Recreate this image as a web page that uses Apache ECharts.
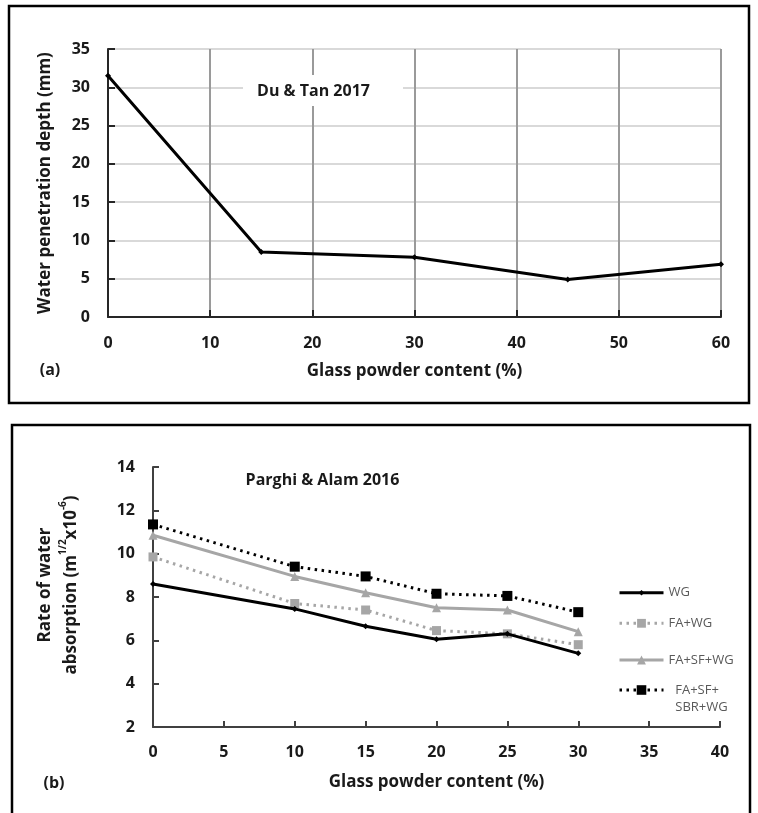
<!DOCTYPE html>
<html>
<head>
<meta charset="utf-8">
<script src="https://cdn.jsdelivr.net/npm/echarts@6/dist/echarts.min.js"></script>
<style>
  html, body { margin: 0; padding: 0; background: #fff; }
  #chart { width: 758px; height: 813px; }
</style>
</head>
<body>
<div id="chart"></div>
<script>
// (a) Du & Tan 2017 - water penetration depth
const depthGlass = [0, 15, 30, 45, 60];
const depthValues = [31.5, 8.5, 7.8, 4.9, 6.9];

// (b) Parghi & Alam 2016 - rate of water absorption
const absorbGlass = [0, 10, 15, 20, 25, 30];
const absorbNames = ['WG', 'FA+WG', 'FA+SF+WG', 'FA+SF+SBR+WG'];
const absorbWG = [8.6, 7.45, 6.65, 6.05, 6.3, 5.4];
const absorbFAWG = [9.85, 7.7, 7.4, 6.45, 6.3, 5.8];
const absorbFASFWG = [10.85, 8.95, 8.2, 7.5, 7.4, 6.4];
const absorbFASFSBRWG = [11.35, 9.4, 8.95, 8.15, 8.05, 7.3];

const FONT = '"Open Sans", "DejaVu Sans", sans-serif';
const INK = '#1a1a1a';
const GREY = '#a6a6a6';

const pairs = (xs, ys) => xs.map((x, i) => [x, ys[i]]);

const boldLabel = (size) => ({
  fontFamily: FONT, fontWeight: 'bold', fontSize: size, color: INK
});

const legendText = (extra) => Object.assign(
  { fontFamily: FONT, fontSize: 13, color: '#595959', lineHeight: 16 }, extra || {});

const legendBase = {
  orient: 'vertical', padding: 0, itemWidth: 44, selectedMode: false,
  lineStyle: { width: 3 }
};

const chart = echarts.init(document.getElementById('chart'), null, { renderer: 'canvas' });

const option = {
  animation: false,
  backgroundColor: '#fff',
  grid: [
    { left: 108, top: 49, width: 613, height: 268 },
    { left: 153, top: 467, width: 567, height: 260 }
  ],
  xAxis: [
    {
      gridIndex: 0, type: 'value', min: 0, max: 60, interval: 10,
      name: 'Glass powder content (%)', nameLocation: 'middle', nameGap: 46,
      nameTextStyle: boldLabel(17),
      axisLine: { lineStyle: { color: '#262626', width: 2 } },
      axisTick: { inside: true, length: 7, lineStyle: { color: '#262626', width: 2 } },
      axisLabel: Object.assign({ margin: 18 }, boldLabel(16)),
      splitLine: { show: true, lineStyle: { color: '#9a9a9a', width: 2 } }
    },
    {
      gridIndex: 1, type: 'value', min: 0, max: 40, interval: 5,
      name: 'Glass powder content (%)', nameLocation: 'middle', nameGap: 47,
      nameTextStyle: boldLabel(17),
      axisLine: { lineStyle: { color: '#404040', width: 2 } },
      axisTick: { inside: true, length: 6, lineStyle: { color: '#404040', width: 2 } },
      axisLabel: Object.assign({ margin: 17 }, boldLabel(16)),
      splitLine: { show: false }
    }
  ],
  yAxis: [
    {
      gridIndex: 0, type: 'value', min: 0, max: 35, interval: 5,
      name: 'Water penetration depth (mm)', nameLocation: 'middle', nameGap: 54, nameRotate: 90,
      nameTextStyle: boldLabel(17),
      axisLine: { show: true, lineStyle: { color: '#262626', width: 2 } },
      axisTick: { show: true, inside: true, length: 7, lineStyle: { color: '#262626', width: 2 } },
      axisLabel: Object.assign({ margin: 18 }, boldLabel(16)),
      splitLine: { show: true, lineStyle: { color: '#d9d9d9', width: 2 } }
    },
    {
      gridIndex: 1, type: 'value', min: 2, max: 14, interval: 2,
      axisLine: { show: true, lineStyle: { color: '#404040', width: 2 } },
      axisTick: { show: true, inside: true, length: 6, lineStyle: { color: '#404040', width: 2 } },
      axisLabel: Object.assign({ margin: 18 }, boldLabel(16)),
      splitLine: { show: false }
    }
  ],
  legend: [
    Object.assign({}, legendBase, {
      data: [absorbNames[0]], left: 618, top: 584.7, itemHeight: 7, textStyle: legendText()
    }),
    Object.assign({}, legendBase, {
      data: [absorbNames[1]], left: 618, top: 615.3, itemHeight: 11, textStyle: legendText()
    }),
    Object.assign({}, legendBase, {
      data: [absorbNames[2]], left: 618, top: 652, itemHeight: 11, textStyle: legendText()
    }),
    Object.assign({}, legendBase, {
      // first (blank) line keeps the sample level with "FA+SF+"
      data: [absorbNames[3]], left: 618, top: 664.5, itemHeight: 12,
      formatter: () => ' \n  FA+SF+\n  SBR+WG',
      textStyle: legendText({ lineHeight: 17 })
    })
  ],
  series: [
    {
      type: 'line', xAxisIndex: 0, yAxisIndex: 0,
      data: pairs(depthGlass, depthValues),
      symbol: 'diamond', symbolSize: 6,
      lineStyle: { color: '#000', width: 3 },
      itemStyle: { color: '#000' }
    },
    {
      name: absorbNames[0], type: 'line', xAxisIndex: 1, yAxisIndex: 1,
      data: pairs(absorbGlass, absorbWG),
      symbol: 'diamond', symbolSize: 6,
      lineStyle: { color: '#000', width: 3 },
      itemStyle: { color: '#000' }, z: 5
    },
    {
      name: absorbNames[1], type: 'line', xAxisIndex: 1, yAxisIndex: 1,
      data: pairs(absorbGlass, absorbFAWG),
      symbol: 'rect', symbolSize: 9,
      lineStyle: { color: GREY, width: 3, type: [2.5, 4.5] },
      itemStyle: { color: GREY }, z: 4
    },
    {
      name: absorbNames[2], type: 'line', xAxisIndex: 1, yAxisIndex: 1,
      data: pairs(absorbGlass, absorbFASFWG),
      symbol: 'triangle', symbolSize: 9,
      lineStyle: { color: GREY, width: 3 },
      itemStyle: { color: GREY }, z: 3
    },
    {
      name: absorbNames[3], type: 'line', xAxisIndex: 1, yAxisIndex: 1,
      data: pairs(absorbGlass, absorbFASFSBRWG),
      symbol: 'rect', symbolSize: 10,
      lineStyle: { color: '#000', width: 3, type: [2.5, 4.5] },
      itemStyle: { color: '#000' }, z: 3
    }
  ],
  graphic: [
    // panel frames
    { type: 'rect', z: 1, shape: { x: 9, y: 6, width: 740, height: 397 },
      style: { fill: 'none', stroke: '#000', lineWidth: 2.5 } },
    { type: 'rect', z: 1, shape: { x: 12, y: 425, width: 738, height: 400 },
      style: { fill: 'none', stroke: '#000', lineWidth: 2.5 } },
    // panel letters
    { type: 'text', z: 10, x: 50, y: 370,
      style: { text: '(a)', align: 'center', verticalAlign: 'middle', fill: INK,
               font: 'bold 16px ' + FONT } },
    { type: 'text', z: 10, x: 54, y: 783,
      style: { text: '(b)', align: 'center', verticalAlign: 'middle', fill: INK,
               font: 'bold 16px ' + FONT } },
    // source label in (a), on a white box over the grid
    { type: 'rect', z: 10, shape: { x: 243, y: 75, width: 160, height: 31 },
      style: { fill: '#fff' } },
    { type: 'text', z: 11, x: 313.5, y: 91,
      style: { text: 'Du & Tan 2017', align: 'center', verticalAlign: 'middle', fill: INK,
               font: 'bold 16px ' + FONT } },
    // source label in (b)
    { type: 'text', z: 11, x: 322.5, y: 480,
      style: { text: 'Parghi & Alam 2016', align: 'center', verticalAlign: 'middle', fill: INK,
               font: 'bold 16px ' + FONT } },
    // y-axis title of (b), two lines with superscripts
    { type: 'text', z: 11, x: 58, y: 585, rotation: Math.PI / 2,
      style: {
        text: '{b|Rate of water}\n{b|absorption (m}{s|1/2}{b|x10}{s|-6}{b|)}',
        align: 'center', verticalAlign: 'middle',
        rich: {
          b: { fontFamily: FONT, fontWeight: 'bold', fontSize: 17, lineHeight: 26, fill: INK, color: INK },
          s: { fontFamily: FONT, fontWeight: 'bold', fontSize: 10, lineHeight: 18, verticalAlign: 'top', fill: INK, color: INK }
        }
      } }
  ]
};

chart.setOption(option);
</script>
</body>
</html>
